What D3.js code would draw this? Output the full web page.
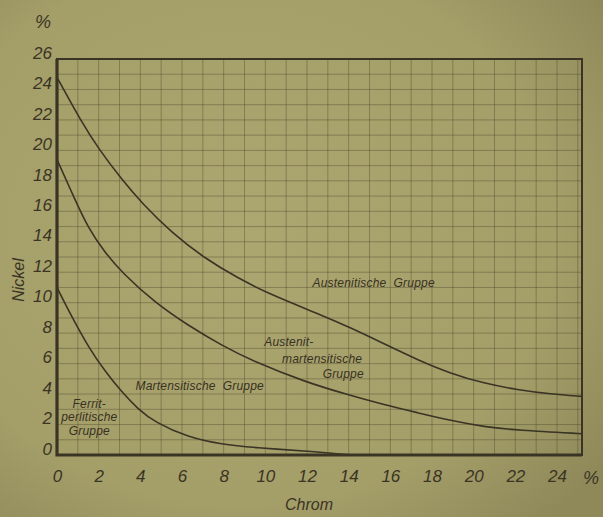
<!DOCTYPE html>
<html>
<head>
<meta charset="utf-8">
<script src="https://cdn.jsdelivr.net/npm/d3@7"></script>
<style>
  body { margin: 0; background: #a39d69; }
  svg { display: block; }
  .tick text { font-family: "Liberation Sans", Arial, sans-serif; font-style: italic; fill: #3a3424; }
  .region { font-family: "Liberation Sans", Arial, sans-serif; font-style: italic; font-size: 12px; letter-spacing: 0.2px; fill: #37311f; }
</style>
</head>
<body>
<script>
// Figure dimensions
const W = 603, H = 517;
const plot = { left: 57, right: 582, top: 59, bottom: 455 };

// Colors
const INK  = '#3a3424';
const GRID = 'rgba(72,66,40,0.38)';

// Data: Chrom (%) vs Nickel (%) boundary curves
const austenitChrom   = [0, 1.2, 2.0, 3.1, 4.1, 5.5, 7.1, 8.7, 10.3, 12.5, 14.1, 15.7, 17.3, 18.9, 20.5, 22.1, 23.7, 25.2];
const austenitNickel  = [24.8, 21.8, 20.1, 18.1, 16.5, 14.6, 12.9, 11.6, 10.5, 9.3, 8.35, 7.3, 6.25, 5.35, 4.7, 4.28, 4.0, 3.85];

const martensitChrom  = [0, 0.85, 1.5, 2.3, 3.1, 4.7, 6.3, 7.9, 9.5, 11.9, 14.1, 15.7, 17.3, 18.9, 20.5, 22.1, 25.2];
const martensitNickel = [19.4, 16.8, 14.9, 13.3, 12.0, 10.0, 8.5, 7.2, 6.1, 4.8, 3.9, 3.3, 2.78, 2.26, 1.85, 1.62, 1.4];

const ferritChrom     = [0, 0.7, 1.5, 2.3, 3.1, 3.9, 4.7, 6.3, 7.9, 9.5, 12.1, 13.2, 14.2];
const ferritNickel    = [11.0, 9.1, 7.1, 5.5, 4.15, 3.0, 2.15, 1.15, 0.7, 0.48, 0.25, 0.1, 0];

const xTicks = d3.range(0, 25, 2);
const yTicks = d3.range(0, 27, 2);

// Region labels: lines of text, anchor point in data units
const regionLabels = [
  { lines: ["Austenitische  Gruppe"], x: 15.2, y: 11.0, anchor: "middle" },
  { lines: ["Austenit-"], x: 9.95, y: 7.15, anchor: "start" },
  { lines: ["martensitische"], x: 10.8, y: 6.05, anchor: "start" },
  { lines: ["Gruppe"], x: 12.75, y: 5.05, anchor: "start" },
  { lines: ["Martensitische  Gruppe"], x: 6.85, y: 4.3, anchor: "middle" },
  { lines: ["Ferrit-", "perlitische", "Gruppe"], x: 1.55, y: 3.1, anchor: "middle" }
];

// Scales
const x = d3.scaleLinear().domain([0, 25.2]).range([plot.left, plot.right]);
const y = d3.scaleLinear().domain([0, 26]).range([plot.bottom, plot.top]);

const svg = d3.select("body").append("svg")
  .attr("width", W)
  .attr("height", H);

// paper background with a slight vignette
const defs = svg.append("defs");
const grad = defs.append("radialGradient")
  .attr("id", "paper")
  .attr("cx", "40%").attr("cy", "45%").attr("r", "75%");
grad.append("stop").attr("offset", "0%").attr("stop-color", "#aca671");
grad.append("stop").attr("offset", "70%").attr("stop-color", "#a49e69");
grad.append("stop").attr("offset", "100%").attr("stop-color", "#8f895a");

svg.append("rect")
  .attr("width", W).attr("height", H)
  .attr("fill", "url(#paper)");

// Grid (1 % steps)
const grid = svg.append("g").attr("class", "grid");
grid.selectAll("line.v")
  .data(d3.range(1, 26, 1))
  .join("line")
    .attr("class", "v")
    .attr("x1", d => x(d)).attr("x2", d => x(d))
    .attr("y1", plot.top).attr("y2", plot.bottom)
    .attr("stroke", GRID).attr("stroke-width", 1);
grid.selectAll("line.h")
  .data(d3.range(1, 26, 1))
  .join("line")
    .attr("class", "h")
    .attr("x1", plot.left).attr("x2", plot.right)
    .attr("y1", d => y(d)).attr("y2", d => y(d))
    .attr("stroke", GRID).attr("stroke-width", 1);

// Curves
const line = d3.line()
  .x(d => x(d[0]))
  .y(d => y(d[1]))
  .curve(d3.curveBasis);

const curves = [
  d3.zip(austenitChrom, austenitNickel),
  d3.zip(martensitChrom, martensitNickel),
  d3.zip(ferritChrom, ferritNickel)
];

svg.append("g")
  .selectAll("path")
  .data(curves)
  .join("path")
    .attr("d", line)
    .attr("fill", "none")
    .attr("stroke", INK)
    .attr("stroke-width", 1.6);

// Frame
svg.append("rect")
  .attr("x", plot.left).attr("y", plot.top)
  .attr("width", plot.right - plot.left)
  .attr("height", plot.bottom - plot.top)
  .attr("fill", "none")
  .attr("stroke", INK)
  .attr("stroke-width", 2);
svg.append("path")
  .attr("d", `M${plot.left},${plot.top}V${plot.bottom}H${plot.right}`)
  .attr("fill", "none")
  .attr("stroke", INK)
  .attr("stroke-width", 3.2);

// Axes
const xAxis = g => {
  g.attr("transform", `translate(0, ${plot.bottom})`)
    .call(d3.axisBottom(x).tickValues(xTicks).tickSize(0).tickPadding(15))
    .call(g => g.select(".domain").remove())
    .call(g => g.selectAll("text").attr("font-size", 17));
};
const yAxis = g => {
  g.attr("transform", `translate(${plot.left}, 0)`)
    .call(d3.axisLeft(y).tickValues(yTicks).tickSize(0).tickPadding(5))
    .call(g => g.select(".domain").remove())
    .call(g => g.selectAll("text").attr("font-size", 17).attr("dy", "-0.05em"));
};
svg.append("g").call(xAxis);
svg.append("g").call(yAxis);

// Unit marks and axis titles
const italic = sel => sel
  .attr("font-family", "'Liberation Sans', Arial, sans-serif")
  .attr("font-style", "italic")
  .attr("fill", INK);

svg.append("text").call(italic)
  .attr("x", 43).attr("y", 28)
  .attr("text-anchor", "middle")
  .attr("font-size", 18)
  .text("%");
svg.append("text").call(italic)
  .attr("x", 591).attr("y", 484)
  .attr("text-anchor", "middle")
  .attr("font-size", 18)
  .text("%");
svg.append("text").call(italic)
  .attr("x", 309).attr("y", 510)
  .attr("text-anchor", "middle")
  .attr("font-size", 16)
  .text("Chrom");
svg.append("text").call(italic)
  .attr("transform", `translate(24, ${280}) rotate(-90)`)
  .attr("text-anchor", "middle")
  .attr("font-size", 16)
  .text("Nickel");

// Region labels
const labels = svg.append("g");
regionLabels.forEach(l => {
  const t = labels.append("text")
    .attr("class", "region")
    .attr("text-anchor", l.anchor)
    .attr("x", x(l.x))
    .attr("y", y(l.y))
    .attr("xml:space", "preserve");
  l.lines.forEach((s, i) => {
    t.append("tspan")
      .attr("x", x(l.x))
      .attr("dy", i === 0 ? 0 : 13.5)
      .text(s);
  });
});
</script>
</body>
</html>
